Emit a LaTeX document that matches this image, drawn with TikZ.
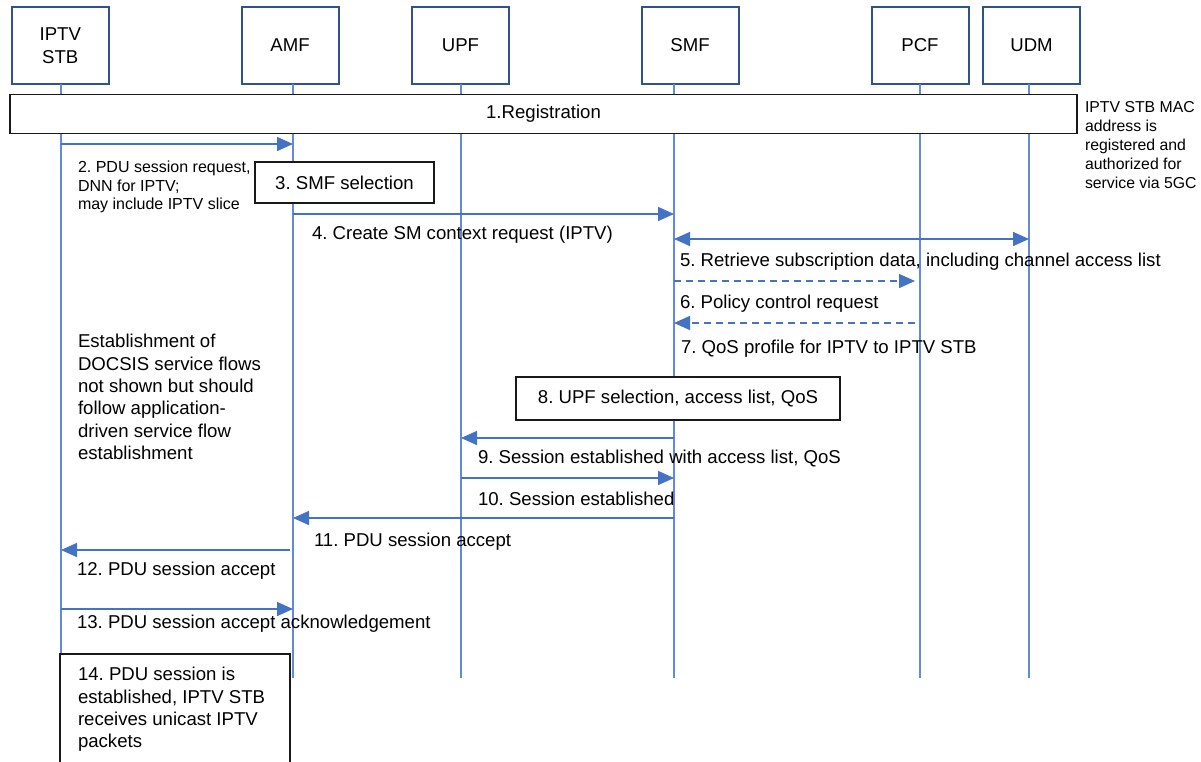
\documentclass[tikz,border=0pt]{standalone}
\usepackage{fontspec}
\setmainfont{Liberation Sans}
\usetikzlibrary{arrows.meta}
\definecolor{lifeblue}{RGB}{98,138,218}
\definecolor{msgblue}{RGB}{68,114,196}
\definecolor{headblue}{RGB}{47,82,143}
\newcommand\mainsz{\fontsize{18.6}{22.4}\selectfont}
\newcommand\smallsz{\fontsize{16}{18.6}\selectfont}
\newcommand\notesz{\fontsize{15.8}{19}\selectfont}
\frenchspacing
\begin{document}
\begin{tikzpicture}[x=1pt,y=-1pt,
  every node/.style={inner sep=0pt, outer sep=0pt},
  actor/.style={draw=headblue, line width=2pt, fill=white, minimum width=97pt,
    minimum height=77pt, align=center, font=\mainsz},
  procbox/.style={draw=black!90, line width=1.8pt, fill=white, font=\mainsz},
  life/.style={draw=lifeblue, line width=1.2pt},
  msg/.style={draw=msgblue, line width=1.5pt, -{Triangle[length=16pt,width=14pt]}},
  msgboth/.style={draw=msgblue, line width=1.5pt,
    {Triangle[length=16pt,width=14pt]}-{Triangle[length=16pt,width=14pt]}},
  dashmsg/.style={msg, dash pattern=on 7pt off 5pt},
  lbl/.style={anchor=west, font=\mainsz, text height=14pt, text depth=3pt},
  mlbl/.style={anchor=west, align=left, font=\mainsz}
]
\fill[white] (0,0) rectangle (1201,761);
\useasboundingbox (0,0) rectangle (1201,761);

% participants
\node[actor] (stb) at (60.25,45.5) {IPTV\\STB};
\node[actor] (amf) at (290,45.5) {AMF};
\node[actor] (upf) at (460.5,45.5) {UPF};
\node[actor] (smf) at (690,45.5) {SMF};
\node[actor] (pcf) at (920,45.5) {PCF};
\node[actor] (udm) at (1031.5,45.5) {UDM};

% lifeline anchors
\coordinate (stbL) at (61,84);
\coordinate (amfL) at (293,84);
\coordinate (upfL) at (461,84);
\coordinate (smfL) at (674,84);
\coordinate (pcfL) at (920,84);
\coordinate (udmL) at (1029,84);
\foreach \p in {stbL,amfL,upfL,smfL,pcfL,udmL}
  \draw[life] (\p) -- (\p |- 0,678);

% processing boxes
\node[procbox, minimum width=1067pt, minimum height=39pt] (reg) at (543.5,114) {1.Registration};
\node[procbox, minimum width=179pt, minimum height=41pt] (s3) at (344.5,182.5) {3. SMF selection};
\node[procbox, minimum width=324pt, minimum height=43pt] (s8) at (678,398.5) {8. UPF selection, access list, QoS};
\node[procbox, anchor=north west, minimum width=230pt, minimum height=126pt] (s14) at (60,654) {};

% side note
\node[anchor=west, align=left, font=\notesz] (note) at (1085,145)
  {IPTV STB MAC\\address is\\registered and\\authorized for\\service via 5GC};

% messages
\draw[msg] (stbL |- 0,144) -- (amfL |- 0,144);
\node[anchor=west, align=left, font=\smallsz] (l2) at (78,187)
  {2. PDU session request,\\DNN for IPTV;\\may include IPTV slice};

\draw[msg] (amfL |- 0,214) -- (smfL |- 0,214);
\node[lbl] (l4) at (312,234) {4. Create SM context request (IPTV)};

\draw[msgboth] (smfL |- 0,239) -- (udmL |- 0,239);
\node[lbl] (l5) at (680,261) {5. Retrieve subscription data, including channel access list};

\draw[dashmsg, shorten >=5pt] (smfL |- 0,281) -- (pcfL |- 0,281);
\node[lbl] (l6) at (680,303) {6. Policy control request};

\draw[dashmsg, shorten <=5pt] (pcfL |- 0,323) -- (smfL |- 0,323);
\node[lbl] (l7) at (681,348) {7. QoS profile for IPTV to IPTV STB};

\node[mlbl] (est) at (78,397)
  {Establishment of\\DOCSIS service flows\\not shown but should\\follow application-\\driven service flow\\establishment};

\draw[msg] (smfL |- 0,438) -- (upfL |- 0,438);
\node[lbl] (l9) at (478,458) {9. Session established with access list, QoS};

\draw[msg] (upfL |- 0,478) -- (smfL |- 0,478);
\node[lbl] (l10) at (478,500) {10. Session established};

\draw[msg] (smfL |- 0,518) -- (amfL |- 0,518);
\node[lbl] (l11) at (314,541) {11. PDU session accept};

\draw[msg, shorten <=3pt] (amfL |- 0,550) -- (stbL |- 0,550);
\node[lbl] (l12) at (77,570) {12. PDU session accept};

\draw[msg] (stbL |- 0,609) -- (amfL |- 0,609);
\node[lbl] (l13) at (77,623) {13. PDU session accept acknowledgement};

\node[mlbl] (l14) at (78,709.5)
  {14. PDU session is\\established, IPTV STB\\receives unicast IPTV\\packets};
\end{tikzpicture}
\end{document}
